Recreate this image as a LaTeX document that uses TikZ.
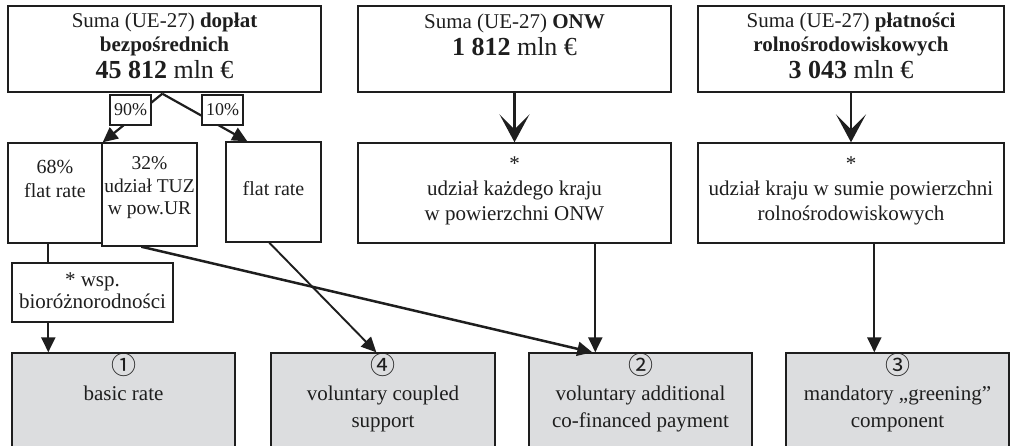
\documentclass[tikz,border=0pt]{standalone}
\usepackage{fontspec}
\setmainfont{Liberation Serif}
\newfontfamily\circfont{Noto Sans CJK SC}
\usetikzlibrary{arrows.meta,calc}
\definecolor{ink}{RGB}{30,30,30}
\definecolor{shade}{RGB}{220,221,223}
\newcommand{\circnum}[1]{{\circfont\fontsize{25}{27}\selectfont #1}}
\begin{document}
\begin{tikzpicture}[x=1pt,y=-1pt,
  box/.style={draw=ink, line width=1.4pt, fill=white, inner sep=0pt},
  gbox/.style={box, fill=shade},
  txt/.style={align=center, text=ink, inner sep=0pt,
    font=\fontsize{21}{24}\selectfont},
  btxt/.style={txt, anchor=north, font=\fontsize{21}{26.5}\selectfont},
  pct/.style={box, line width=1.2pt, minimum width=41pt, minimum height=30pt,
    font=\fontsize{18}{20}\selectfont, text=ink},
  link/.style={draw=ink, line width=2.2pt},
  flow/.style={link, -{Triangle[length=15pt,width=14pt]}},
  drop/.style={link, -{Stealth[length=28pt,width=30pt,inset=15pt]}},
]
\useasboundingbox (0,0) rectangle (1010,445);
\clip (0,0) rectangle (1010,445);

% upper row: totals
\node[box, minimum width=313pt, minimum height=86pt] (A) at (164.5,49) {};
\node[txt] (At) at (164.5,46) {Suma (UE-27) \textbf{dopłat}\\ \textbf{bezpośrednich}\\[3pt]
  {\fontsize{26}{26}\selectfont\textbf{45 812} mln €}};
\node[box, minimum width=313pt, minimum height=86pt] (Ot) at (514.5,49) {};
\node[txt] (Ott) at (514.5,35) {Suma (UE-27) \textbf{ONW}\\[3pt]
  {\fontsize{26}{26}\selectfont\textbf{1 812} mln €}};
\node[box, minimum width=306pt, minimum height=86pt] (Rt) at (851,49) {};
\node[txt] (Rtt) at (851,46) {Suma (UE-27) \textbf{płatności}\\ \textbf{rolnośrodowiskowych}\\[3pt]
  {\fontsize{26}{26}\selectfont\textbf{3 043} mln €}};

% middle row: allocation keys
\node[box, minimum width=94pt, minimum height=100pt] (B68) at (55,193) {};
\node[txt, font=\fontsize{20}{24}\selectfont] (B68t) at (55,179) {68\%\\ flat rate};
\node[box, minimum width=95pt, minimum height=103pt] (B32) at (149.5,194.5) {};
\node[txt, font=\fontsize{19.5}{22.5}\selectfont] (B32t) at (149.5,188) {32\%\\ udział TUZ\\ w pow.UR};
\node[box, minimum width=95pt, minimum height=100pt] (BF) at (273.5,192) {};
\node[txt, font=\fontsize{20}{24}\selectfont] (BFt) at (273.5,189) {flat rate};
\node[box, minimum width=313pt, minimum height=100pt] (Om) at (514.5,193) {};
\node[txt, font=\fontsize{21}{25}\selectfont] (Omt) at (514.5,191) {*\\ udział każdego kraju\\ w powierzchni ONW};
\node[box, minimum width=306pt, minimum height=100pt] (Rm) at (851,193) {};
\node[txt, font=\fontsize{21}{25}\selectfont] (Rmt) at (851,191) {*\\ udział kraju w sumie powierzchni\\ rolnośrodowiskowych};
\node[box, minimum width=161pt, minimum height=59pt] (W) at (92.5,292.5) {};
\node[txt, font=\fontsize{21}{22}\selectfont] (Wt) at (92.5,291) {* wsp.\\ bioróżnorodności};

% lower row: payment components
\node[gbox, minimum width=223pt, minimum height=110pt] (R1) at (123.5,408) {};
\node[btxt] (R1t) at (123.5,353) {\circnum{①}\\ basic rate};
\node[gbox, minimum width=224pt, minimum height=110pt] (R4) at (383,408) {};
\node[btxt] (R4t) at (383,353) {\circnum{④}\\ voluntary coupled\\ support};
\node[gbox, minimum width=223pt, minimum height=110pt] (R2) at (640.5,408) {};
\node[btxt] (R2t) at (640.5,353) {\circnum{②}\\ voluntary additional\\ co-financed payment};
\node[gbox, minimum width=223pt, minimum height=110pt] (R3) at (897.5,408) {};
\node[btxt] (R3t) at (897.5,353) {\circnum{③}\\ mandatory „greening”\\ component};

% split of the direct payments
\coordinate (split) at ($(A.south west)+(155,1)$);
\draw[flow] (split) -- (B68.north east);
\draw[flow] (split) -- ($(BF.north west)+(22,0)$);
\node[pct] (p90) at (130.5,110) {90\%};
\node[pct] (p10) at (222.5,110) {10\%};

% vertical flows
\draw[drop] (Ot.south) -- (Om.north);
\draw[drop] (Rt.south) -- (Rm.north);
\draw[link] ($(B68.south west)+(41,0)$) -- ($(W.north west)+(37,0)$);
\draw[flow] ($(W.south west)+(37,0)$) -- ($(R1.north west)+(37,0)$);
\draw[flow] ($(Om.south west)+(238,0)$) -- ($(R2.north west)+(67,0)$);
\draw[flow] ($(Rm.south west)+(177,0)$) -- ($(R3.north west)+(89,0)$);

% diagonal flows
\draw[flow, line width=1.9pt] ($(BF.south west)+(44,0)$) -- ($(R4.north west)+(106,0)$);
\draw[flow, line width=2.5pt] ($(B32.south west)+(40,0)$) -- ($(R2.north west)+(64,0)$);
\end{tikzpicture}
\end{document}
